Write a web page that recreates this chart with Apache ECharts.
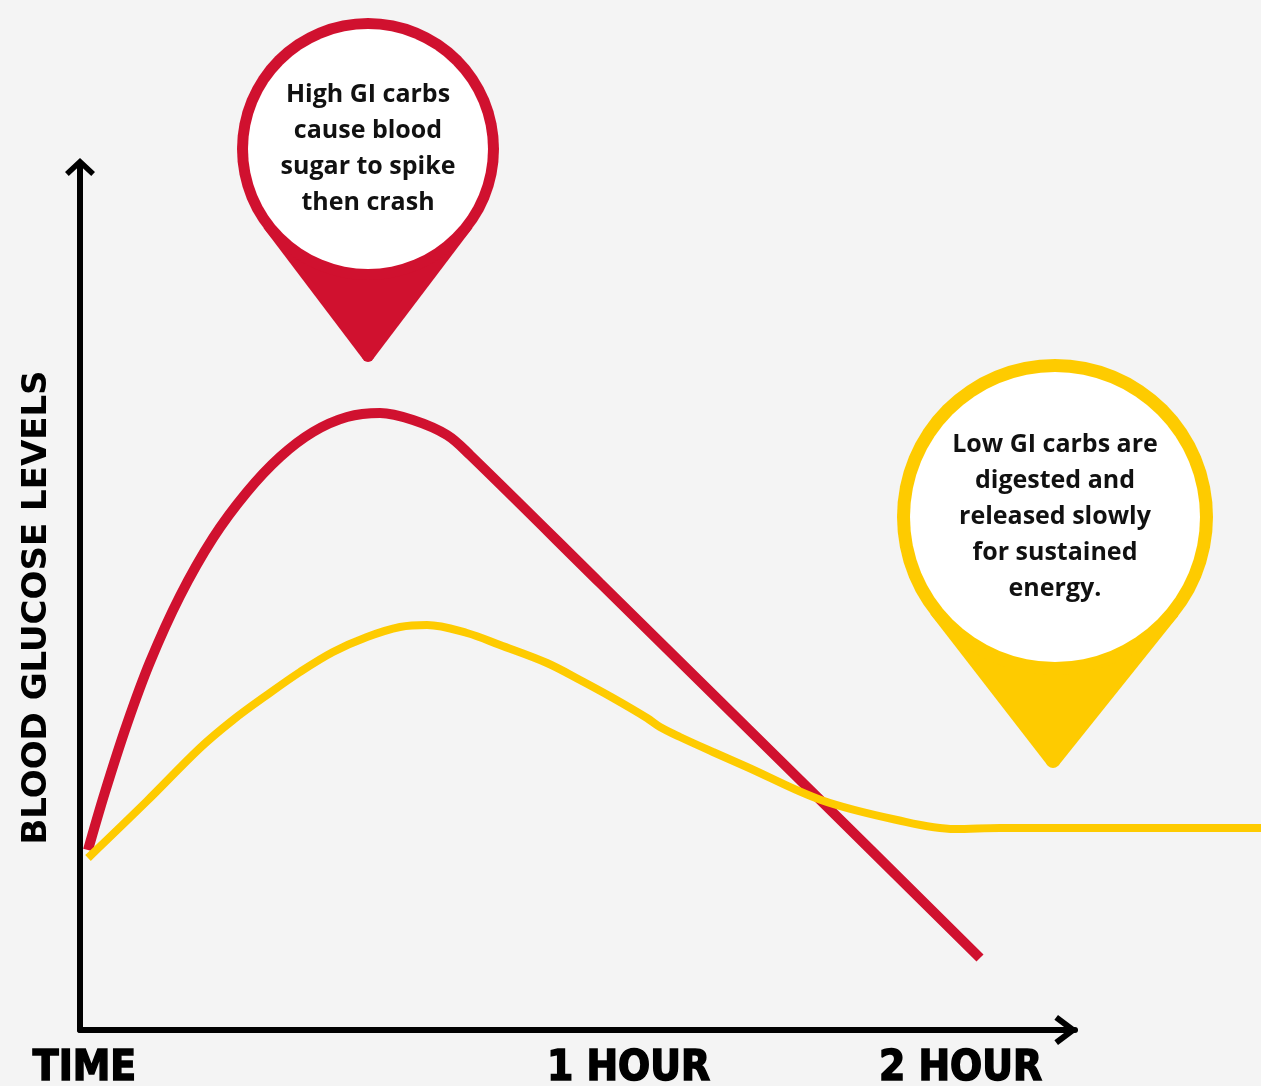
<!DOCTYPE html>
<html>
<head>
<meta charset="utf-8">
<script src="https://cdn.jsdelivr.net/npm/echarts@6/dist/echarts.min.js"></script>
<style>
html,body{margin:0;padding:0;background:#f4f4f4;}
#chart{width:1261px;height:1086px;}
</style>
</head>
<body>
<div id="chart"></div>
<script>
// ---- data (abstract time units on x, glucose level units on y) ----
const highGiX = [0.8, 2.5, 4.7, 7.0, 10.0, 13.3, 16.7, 20.0, 23.3, 26.7, 30.0, 33.3, 36.7, 39.0, 52.0, 72.0, 90.0];
const highGiY = [18.0, 23.8, 30.6, 36.8, 43.4, 49.2, 53.8, 57.3, 59.8, 61.3, 61.7, 61.0, 59.5, 57.5, 44.7, 25.0, 7.2];

const lowGiX = [0.8, 6.7, 12.0, 15.3, 18.7, 22.0, 25.3, 28.7, 32.0, 34.7, 38.7, 42.0, 46.7, 50.0, 53.3, 56.7, 58.0, 60.0, 63.3, 66.7, 74.1, 81.7, 87.5, 92.0, 118.1];
const lowGiY = [17.2, 22.9, 28.2, 31.0, 33.5, 35.8, 37.8, 39.3, 40.3, 40.5, 39.7, 38.5, 36.7, 35.0, 33.2, 31.2, 30.3, 29.3, 27.8, 26.3, 23.0, 21.0, 20.1, 20.2, 20.2];

const xTickValues = [0.45, 54.85, 88.05];
const xTickLabels = ['TIME', '1 HOUR', '2 HOUR'];
const yAxisTitle = 'BLOOD GLUCOSE LEVELS';

const calloutTexts = [
  'High GI carbs\ncause blood\nsugar to spike\nthen crash',
  'Low GI carbs are\ndigested and\nreleased slowly\nfor sustained\nenergy.'
];
const calloutTipX = [28.8, 97.3];
const calloutTipY = [66.8, 26.2];

// ---- styles ----
const RED = '#D0112F';
const YELLOW = '#FECB00';
const calloutShape = [
  { rise: 213, dx: 0, R: 131, r: 120, tipR: 6, color: RED },
  { rise: 251, dx: 2, R: 158, r: 145, tipR: 7, color: YELLOW }
];

const xChevron = 'path://M0,20 L15,0 L30,20 L25.2,23.6 L15,10 L4.8,23.6 Z';
const yChevron = 'path://M0,14 L15,0 L30,14 L26.25,18 L15,7.5 L3.75,18 Z';

const chart = echarts.init(document.getElementById('chart'));

function zip(xs, ys) { return xs.map((x, i) => [x, ys[i]]); }

const labelFont = '"DejaVu Sans Condensed", "Liberation Sans Narrow", "DejaVu Sans", sans-serif';

const option = {
  backgroundColor: '#f4f4f4',
  animation: false,
  grid: [
    // visible axes
    { left: 80, width: 995, top: 165, bottom: 56, outerBoundsMode: 'none', containLabel: false },
    // plotting grid with the same scale, reaching the right edge for the flat tail of the low GI curve
    { left: 80, right: 0, top: 165, bottom: 56, outerBoundsMode: 'none', containLabel: false }
  ],
  xAxis: [
    {
      gridIndex: 0,
      type: 'value',
      min: 0,
      max: 99.5,
      splitLine: { show: false },
      axisTick: { show: false },
      axisLine: {
        show: true,
        onZero: false,
        lineStyle: { color: '#000', width: 6 },
        symbol: ['none', xChevron],
        symbolSize: [30, 23.6],
        symbolOffset: [0, -8.8]
      },
      axisLabel: {
        show: true,
        customValues: xTickValues,
        formatter: function (v) {
          let best = 0;
          for (let i = 1; i < xTickValues.length; i++) {
            if (Math.abs(xTickValues[i] - v) < Math.abs(xTickValues[best] - v)) best = i;
          }
          return xTickLabels[best];
        },
        margin: 18,
        color: '#000',
        fontFamily: labelFont,
        fontWeight: 'bold',
        fontSize: 42,
        textBorderColor: '#000',
        textBorderWidth: 1.5
      }
    },
    {
      gridIndex: 1,
      type: 'value',
      min: 0,
      max: 118.1,
      show: false
    }
  ],
  yAxis: [
    {
      gridIndex: 0,
      type: 'value',
      min: 0,
      max: 86.5,
      splitLine: { show: false },
      axisTick: { show: false },
      axisLabel: { show: false },
      axisLine: {
        show: true,
        onZero: false,
        lineStyle: { color: '#000', width: 6 },
        symbol: ['none', yChevron],
        symbolSize: [30, 18],
        symbolOffset: [0, -2]
      },
      name: yAxisTitle,
      nameLocation: 'middle',
      nameRotate: 90,
      nameGap: 26,
      nameTextStyle: {
        color: '#000',
        fontFamily: '"DejaVu Sans", sans-serif',
        fontWeight: 'bold',
        fontSize: 34,
        padding: [0, 20, 0, 0]
      }
    },
    {
      gridIndex: 1,
      type: 'value',
      min: 0,
      max: 86.5,
      show: false
    }
  ],
  series: [
    {
      name: 'High GI',
      type: 'line',
      xAxisIndex: 1,
      yAxisIndex: 1,
      data: zip(highGiX, highGiY),
      smooth: 0.35,
      showSymbol: false,
      clip: false,
      lineStyle: { color: RED, width: 10, cap: 'butt' },
      z: 2
    },
    {
      name: 'Low GI',
      type: 'line',
      xAxisIndex: 1,
      yAxisIndex: 1,
      data: zip(lowGiX, lowGiY),
      smooth: 0.35,
      showSymbol: false,
      clip: false,
      lineStyle: { color: YELLOW, width: 8 },
      z: 3
    },
    {
      name: 'Callouts',
      type: 'custom',
      xAxisIndex: 1,
      yAxisIndex: 1,
      clip: false,
      z: 5,
      data: zip(calloutTipX, calloutTipY),
      renderItem: function (params, api) {
        const i = params.dataIndex;
        const g = calloutShape[i];
        const tip = api.coord([api.value(0), api.value(1)]);
        const cx = tip[0] + g.dx;
        const cy = tip[1] - g.rise;
        const tx = tip[0];
        const ty = tip[1] - g.tipR;
        const vx = tx - cx, vy = ty - cy;
        const d = Math.sqrt(vx * vx + vy * vy);
        const th = Math.atan2(vy, vx);
        const phi = Math.acos((g.R - g.tipR) / d);
        const pts = [];
        const a1 = th + phi, a2 = th - phi;
        pts.push([cx + g.R * Math.cos(a1), cy + g.R * Math.sin(a1)]);
        pts.push([tx + g.tipR * Math.cos(a1), ty + g.tipR * Math.sin(a1)]);
        pts.push([tx + g.tipR * Math.cos(a2), ty + g.tipR * Math.sin(a2)]);
        pts.push([cx + g.R * Math.cos(a2), cy + g.R * Math.sin(a2)]);
        return {
          type: 'group',
          children: [
            { type: 'polygon', shape: { points: pts }, style: { fill: g.color } },
            { type: 'circle', shape: { cx: tx, cy: ty, r: g.tipR }, style: { fill: g.color } },
            { type: 'circle', shape: { cx: cx, cy: cy, r: g.R }, style: { fill: g.color } },
            { type: 'circle', shape: { cx: cx, cy: cy, r: g.r }, style: { fill: '#ffffff' } },
            {
              type: 'text',
              style: {
                text: calloutTexts[i],
                x: cx,
                y: cy,
                align: 'center',
                verticalAlign: 'middle',
                fontFamily: '"Open Sans", sans-serif',
                fontWeight: 'bold',
                fontSize: 25,
                lineHeight: 36,
                fill: '#111111'
              }
            }
          ]
        };
      }
    }
  ]
};

chart.setOption(option);
</script>
</body>
</html>
